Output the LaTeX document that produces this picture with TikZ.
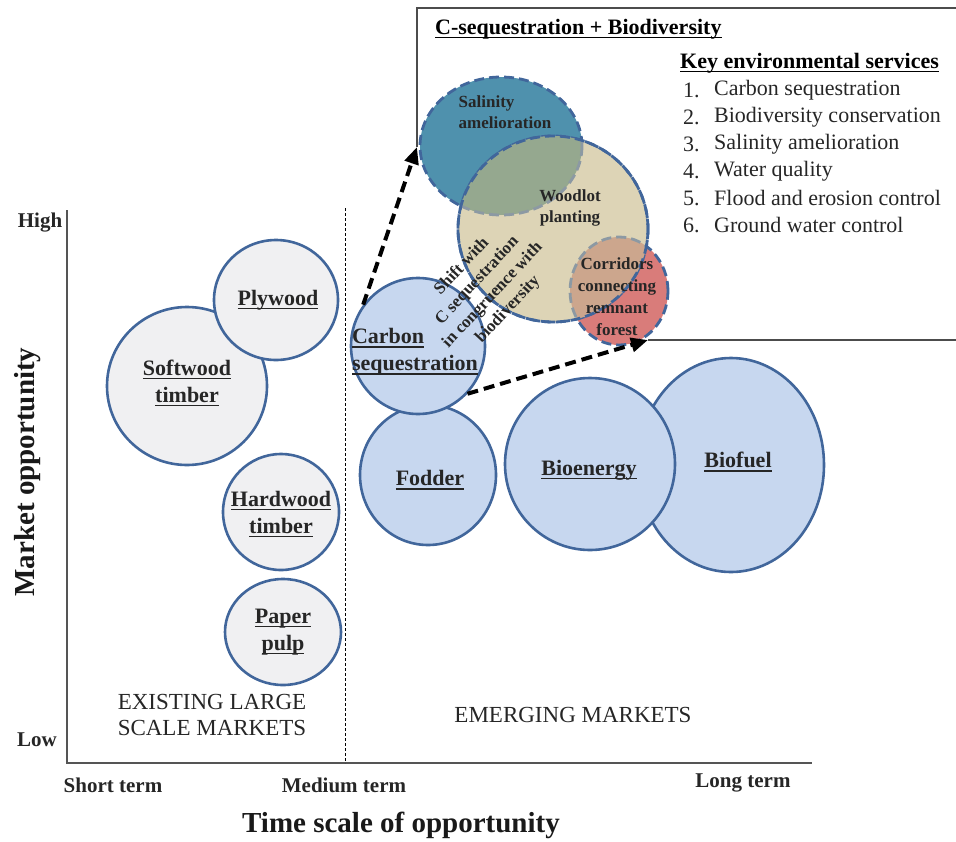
\documentclass[tikz,border=0pt]{standalone}
\usepackage{fontspec}
\setmainfont{Liberation Serif}
\usetikzlibrary{shapes.geometric,arrows.meta}

\newsavebox{\ulbox}
\newcommand{\mkul}[1]{\sbox{\ulbox}{#1}\rlap{\vrule height -2.6pt depth 4.1pt width \wd\ulbox}\usebox{\ulbox}}

\definecolor{rimblue}{HTML}{41669B}
\definecolor{oldfill}{HTML}{F0F0F2}
\definecolor{newfill}{HTML}{C7D7EF}
\definecolor{salfill}{HTML}{4F91AD}
\definecolor{woodfill}{HTML}{DDD4B6}
\definecolor{mixfill}{HTML}{95A88F}
\definecolor{corfill}{HTML}{D97C7A}
\definecolor{tanfill}{HTML}{CCA68D}
\definecolor{axisgray}{HTML}{555555}
\definecolor{fadedash}{HTML}{8C99A3}

\tikzset{
  bubble/.style={ellipse, draw=rimblue, line width=2.6pt, fill=oldfill, inner sep=0pt},
  newbubble/.style={bubble, fill=newfill},
  service/.style={ellipse, draw=rimblue, line width=2.8pt, dash pattern=on 10pt off 5pt, inner sep=0pt},
  marketname/.style={font=\bfseries\fontsize{22}{27}\selectfont, align=center, text=black!85},
  smallname/.style={font=\bfseries\fontsize{17}{21}\selectfont, align=center, text=black!85},
  axisname/.style={font=\bfseries\fontsize{21}{25}\selectfont, text=black!85},
  axistitle/.style={font=\bfseries\fontsize{29}{33}\selectfont, text=black!90},
  zonename/.style={font=\fontsize{23}{26}\selectfont, align=center, text=black!85},
  listtext/.style={font=\fontsize{22}{26}\selectfont, anchor=west, inner sep=0pt, text=black!85},
  shiftarrow/.style={line width=4pt, dash pattern=on 11pt off 6pt, -{Triangle[length=17pt,width=14pt]}},
}

\begin{document}
\begin{tikzpicture}[x=1pt,y=-1pt]
\useasboundingbox (0,0) rectangle (956,841);

% axes and the divide between the two kinds of market
\draw[axisgray, line width=2.5pt] (67,210) -- (67,763) -- (812,763);
\draw[densely dashed, line width=1pt] (345,208) -- (345,763);

\node[axisname] (high) at (40,223) {High};
\node[axisname] (low) at (37,740) {Low};
\node[axisname] (short) at (113,785) {Short term};
\node[axisname] (medium) at (344,785) {Medium term};
\node[axisname] (long) at (743,783) {Long term};
\node[axistitle] (timetitle) at (401,825) {Time scale of opportunity};
\node[axistitle, rotate=90] (markettitle) at (28,472) {Market opportunity};

\node[zonename] (existing) at (212,715) {EXISTING LARGE\\SCALE MARKETS};
\node[zonename] (emerging) at (573,715) {EMERGING MARKETS};

% environmental services
\node[service, fill=salfill, minimum width=162pt, minimum height=138pt] (salinity) at (501,146) {};
\node[service, fill=corfill, minimum width=98pt, minimum height=108pt] (corridor) at (619,291) {};
\node[service, fill=woodfill, minimum width=190pt, minimum height=186pt] (woodlot) at (553,229) {};
\begin{scope}
  \clip (553,229) ellipse (95 and 93);
  \fill[mixfill] (501,146) ellipse (81 and 69);
  \fill[tanfill] (619,291) ellipse (49 and 54);
  \draw[fadedash, line width=2.8pt, dash pattern=on 10pt off 5pt] (501,146) ellipse (81 and 69);
  \draw[fadedash, line width=2.8pt, dash pattern=on 10pt off 5pt] (619,291) ellipse (49 and 54);
\end{scope}
\draw[rimblue, line width=2.8pt, dash pattern=on 10pt off 5pt] (553,229) ellipse (95 and 93);

\node[smallname, align=left] (saltext) at (505,112) {Salinity\\amelioration};
\node[smallname] (woodtext) at (570,208) {Woodlot\\planting};
\node[smallname, font=\bfseries\fontsize{17}{22}\selectfont] (cortext) at (617,297) {Corridors\\connecting\\remnant\\forest};

% existing markets
\node[bubble, minimum width=160pt, minimum height=158pt] (softwood) at (187,386) {};
\node[bubble, minimum width=124pt, minimum height=120pt] (plywood) at (276,300) {};
\node[bubble, minimum width=116pt, minimum height=116pt] (hardwood) at (281,512) {};
\node[bubble, minimum width=116pt, minimum height=106pt] (pulp) at (283,632) {};
\node[marketname] at (187,383) {\mkul{Softwood}\\\mkul{timber}};
\node[marketname] at (278,300) {\mkul{Plywood}};
\node[marketname] at (281,514) {\mkul{Hardwood}\\\mkul{timber}};
\node[marketname] at (283,632) {\mkul{Paper}\\\mkul{pulp}};

% emerging markets
\node[newbubble, minimum width=136pt, minimum height=140pt] (fodder) at (428,475) {};
\node[newbubble, minimum width=134pt, minimum height=136pt] (carbon) at (418,346) {};
\node[newbubble, minimum width=186pt, minimum height=214pt] (biofuel) at (731,465) {};
\node[newbubble, minimum width=170pt, minimum height=172pt] (bioenergy) at (590,464) {};
\node[marketname, align=left] at (415,352) {\mkul{Carbon}\\\mkul{sequestration}};
\node[marketname] at (430,480) {\mkul{Fodder}};
\node[marketname] at (589,470) {\mkul{Bioenergy}};
\node[marketname] at (738,462) {\mkul{Biofuel}};

\node[smallname, rotate=47] (shifttext) at (485,288) {Shift with\\C sequestration\\in congruence with\\biodiversity};

% panel frame and the two shift arrows
\coordinate (frametip) at (417,147);
\coordinate (framefoot) at (648,340);
\draw[black!70, line width=1.5pt] (frametip) -- (417,8) -- (956,8);
\draw[black!70, line width=1.5pt] (framefoot) -- (956,340);
\draw[shiftarrow] (carbon.143) -- (frametip);
\draw[shiftarrow] (carbon.-44) -- (framefoot);

\node[font=\bfseries\fontsize{22}{26}\selectfont, anchor=west, inner sep=0pt] (paneltitle) at (435,29) {\mkul{C-sequestration + Biodiversity}};
\node[font=\bfseries\fontsize{22}{26}\selectfont, anchor=west, inner sep=0pt] (keyhead) at (680,63) {\mkul{Key environmental services}};
\foreach \txt [count=\i] in {Carbon sequestration, Biodiversity  conservation, Salinity  amelioration, Water quality, Flood and erosion control, Ground water control}{
  \node[listtext] (num\i) at (683,{63+27*\i}) {\i.};
  \node[listtext] (item\i) at (714,{63+27*\i}) {\txt};
}
\end{tikzpicture}
\end{document}
